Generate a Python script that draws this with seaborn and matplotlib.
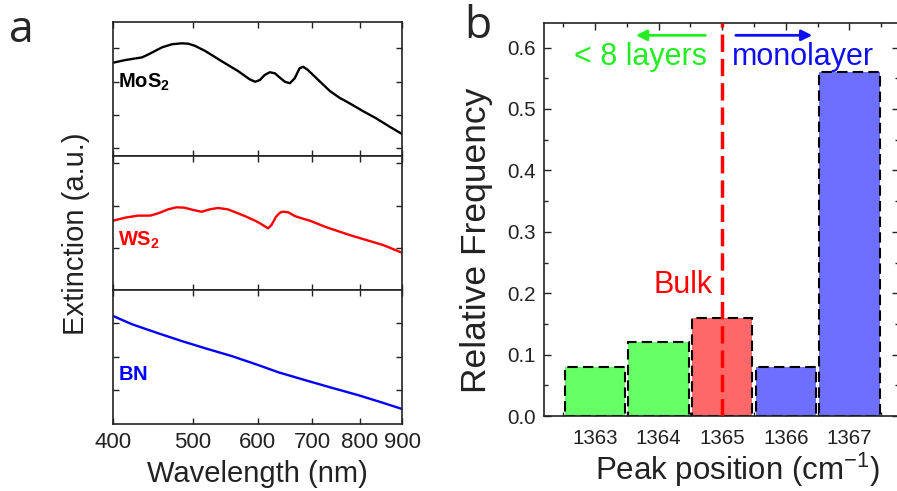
import matplotlib
matplotlib.use('Agg')
import matplotlib.pyplot as plt
import matplotlib.ticker as mticker
import seaborn as sns

# ---- panel a: extinction spectra (normalised per panel)
mos2_nm = [400, 414, 434, 442, 459, 472, 485, 494, 503, 518, 542, 568, 587, 596, 604, 612, 621,
           630, 639, 648, 657, 666, 675, 682, 691, 708, 735, 755, 777, 806, 837, 869, 900]
mos2_ext = [0.696, 0.716, 0.736, 0.759, 0.811, 0.834, 0.841, 0.838, 0.823, 0.784, 0.709, 0.634,
            0.572, 0.554, 0.567, 0.604, 0.625, 0.617, 0.584, 0.554, 0.543, 0.580, 0.654, 0.666,
            0.642, 0.580, 0.485, 0.435, 0.393, 0.336, 0.281, 0.219, 0.164]

ws2_nm = [400, 414, 429, 444, 454, 467, 478, 489, 501, 513, 525, 537, 552, 568, 579, 587, 596,
          604, 618, 624, 632, 639, 644, 654, 666, 675, 695, 728, 777, 814, 853, 900]
ws2_ext = [0.517, 0.540, 0.555, 0.555, 0.572, 0.602, 0.617, 0.614, 0.597, 0.584, 0.602, 0.612,
           0.602, 0.572, 0.552, 0.535, 0.517, 0.498, 0.460, 0.485, 0.547, 0.577, 0.584, 0.580,
           0.552, 0.540, 0.517, 0.468, 0.410, 0.373, 0.336, 0.278]

bn_nm = [400, 422, 454, 485, 518, 558, 601, 636, 685, 738, 795, 849, 900]
bn_ext = [0.806, 0.744, 0.677, 0.619, 0.565, 0.507, 0.440, 0.386, 0.328, 0.271, 0.216, 0.162, 0.112]

wl_ticks = [400, 500, 600, 700, 800, 900]
mos2_yticks = [0.057, 0.306, 0.555, 0.804]
ws2_yticks = [0.313, 0.627, 0.948]
bn_yticks = [0.254, 0.5, 0.754]

# ---- panel b: histogram of peak positions
peak_pos = ['1363', '1364', '1365', '1366', '1367']
rel_freq = [0.08, 0.12, 0.16, 0.08, 0.56]
group = ['few', 'few', 'bulk', 'mono', 'mono']
group_colors = {'few': '#66ff66', 'bulk': '#ff6868', 'mono': '#6e6eff'}

sns.set_theme(style='ticks')
plt.rcParams['font.family'] = ['Liberation Sans', 'DejaVu Sans']
plt.rcParams['mathtext.fontset'] = 'custom'
plt.rcParams['mathtext.rm'] = 'Liberation Sans'
plt.rcParams['mathtext.bf'] = 'Liberation Sans:bold'
plt.rcParams['axes.edgecolor'] = '#222222'
plt.rcParams['axes.linewidth'] = 1.2

fig = plt.figure(figsize=(8.97, 4.91), dpi=100)

left, width, h = 0.126, 0.3222, 0.2729
bottoms = [0.6823, 0.4094, 0.1365]
spectra = [
    (mos2_nm, mos2_ext, 'black', r'$\mathbf{MoS_2}$', 0.552, mos2_yticks),
    (ws2_nm, ws2_ext, '#ff0000', r'$\mathbf{WS_2}$', 0.373, ws2_yticks),
    (bn_nm, bn_ext, '#0000ff', r'$\mathbf{BN}$', 0.366, bn_yticks),
]
axes_a = []
for (nm, ext, col, name, ty, yt), b in zip(spectra, bottoms):
    ax = fig.add_axes([left, b, width, h])
    sns.lineplot(x=nm, y=ext, ax=ax, color=col, lw=1.7)
    ax.set_xscale('log')
    ax.set_xlim(400, 900)
    ax.set_ylim(0, 1)
    ax.xaxis.set_major_locator(mticker.FixedLocator(wl_ticks))
    ax.xaxis.set_minor_locator(mticker.NullLocator())
    ax.xaxis.set_major_formatter(mticker.ScalarFormatter())
    ax.set_yticks(yt)
    ax.set_yticklabels([])
    ax.tick_params(direction='in', length=4, width=1, top=True, right=True,
                   labelsize=16, pad=6, colors='#222222', labelcolor='#222222')
    ax.text(0.017, ty, name, transform=ax.transAxes, color=col, fontsize=14.5,
            ha='left', va='center')
    ax.set_xlabel('')
    ax.set_ylabel('')
    axes_a.append(ax)
for ax in axes_a[:-1]:
    ax.tick_params(labelbottom=False)

fig.text(0.085, 1 - 234 / 491, 'Extinction (a.u.)', rotation=90, ha='center', va='center',
         fontsize=21, color='#222222')
fig.text(257 / 897, 1 - 474 / 491, 'Wavelength (nm)', ha='center', va='center',
         fontsize=21, color='#222222')

# ---- panel b
axb = fig.add_axes([0.6065, 0.1527, 0.3958, 0.8004])
sns.barplot(x=peak_pos, y=rel_freq, hue=group, palette=group_colors, dodge=False,
            saturation=1, width=0.95, edgecolor='black', linewidth=1.5,
            linestyle=(0, (5, 2.5)), legend=False, ax=axb)
axb.axvline(2, color='#ff0000', lw=2.5, linestyle=(0, (5, 2)), zorder=5)
axb.set_xlim(-0.8, 4.78)
axb.set_ylim(0, 0.64)
axb.yaxis.set_major_locator(mticker.MultipleLocator(0.1))
axb.yaxis.set_minor_locator(mticker.MultipleLocator(0.05))
axb.xaxis.set_minor_locator(mticker.FixedLocator([-0.5, 0.5, 1.5, 2.5, 3.5, 4.5]))
axb.yaxis.set_major_formatter(mticker.FormatStrFormatter('%.1f'))
axb.tick_params(which='both', direction='in', top=True, right=True, colors='#222222')
axb.tick_params(which='major', length=5, width=1, labelsize=14.8)
axb.tick_params(which='minor', length=3, width=1)
axb.tick_params(axis='x', pad=9)
axb.tick_params(axis='y', pad=6)
axb.set_xlabel('')
axb.set_ylabel('')

axb.annotate('', xy=(0.6, 0.62), xytext=(1.78, 0.62),
             arrowprops=dict(arrowstyle='-|>', color='#22ee22', lw=2, mutation_scale=16))
axb.annotate('', xy=(3.46, 0.62), xytext=(2.17, 0.62),
             arrowprops=dict(arrowstyle='-|>', color='#1010ee', lw=2, mutation_scale=16))
axb.text(1.76, 0.585, '< 8 layers', color='#22ee22', fontsize=22, ha='right', va='center')
axb.text(2.16, 0.585, 'monolayer', color='#1010ee', fontsize=22, ha='left', va='center')
axb.text(1.84, 0.213, 'Bulk', color='#ff0000', fontsize=22, ha='right', va='center')

fig.text(476 / 897, 1 - 240 / 491, 'Relative Frequency', rotation=90, ha='center', va='center',
         fontsize=25.5, color='#222222')
fig.text(737 / 897, 1 - 470 / 491, r'Peak position (cm$^{-1}$)', ha='center', va='center',
         fontsize=22.5, color='#222222')

fig.text(21 / 897, 1 - 31 / 491, 'a', fontsize=32, family=['Open Sans', 'DejaVu Sans'],
         ha='center', va='center')
fig.text(478 / 897, 1 - 27 / 491, 'b', fontsize=32, family=['Open Sans', 'DejaVu Sans'],
         ha='center', va='center')

fig.savefig('out.png', dpi=100)
